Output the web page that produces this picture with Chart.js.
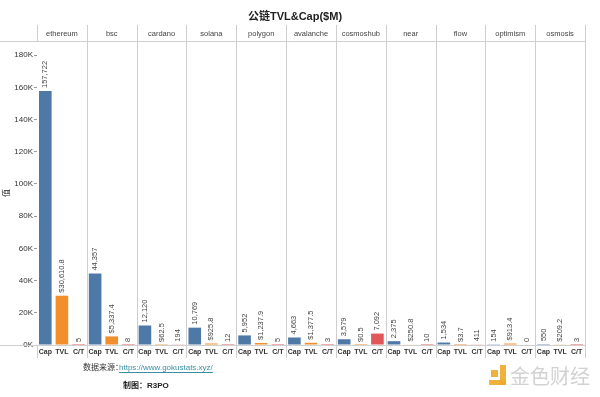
<!DOCTYPE html>
<html>
<head>
<meta charset="utf-8">
<script src="https://cdn.jsdelivr.net/npm/chart.js@4/dist/chart.umd.min.js"></script>
<style>
  html, body { margin: 0; padding: 0; background: #fff; }
  #wrap { width: 600px; height: 397px; position: relative; }
</style>
</head>
<body>
<div id="wrap"><canvas id="chart"></canvas></div>
<script>
// Data ($M)
const chains = ["ethereum", "bsc", "cardano", "solana", "polygon", "avalanche",
                "cosmoshub", "near", "flow", "optimism", "osmosis"];
const measures = ["Cap", "TVL", "C/T"];
const capValues = [157722, 44357, 12120, 10769, 5952, 4663, 3579, 2375, 1534, 154, 550];
const tvlValues = [30610.8, 5337.4, 62.5, 925.8, 1237.9, 1377.5, 0.5, 250.8, 3.7, 913.4, 209.2];
const ctValues = [5, 8, 194, 12, 5, 3, 7092, 10, 411, 0, 3];
const yTicks = [0, 20000, 40000, 60000, 80000, 100000, 120000, 140000, 160000, 180000];

const MEASURE_COLORS = ["#4e79a7", "#f28e2b", "#e15759"];
const FONT = "'Liberation Sans', Arial, 'Noto Sans CJK SC', sans-serif";

const labels = chains.flatMap(() => measures);
const values = chains.flatMap((c, i) => [capValues[i], tvlValues[i], ctValues[i]]);
const colors = labels.map((l, i) => MEASURE_COLORS[i % 3]);

function fmtValue(v, idx) {
    if (idx % 3 === 1) {
        return "$" + v.toLocaleString("en-US", { minimumFractionDigits: 1, maximumFractionDigits: 1 });
    }
    return v.toLocaleString("en-US");
}

// panel frame, headers, footer text
const framePlugin = {
    id: "frame",
    afterDraw(chart) {
        const { ctx, chartArea } = chart;
        const { left, right, top, bottom } = chartArea;
        const w = (right - left) / chains.length;
        ctx.save();
        ctx.strokeStyle = "#cfcfcf";
        ctx.lineWidth = 1;
        ctx.beginPath();
        ctx.moveTo(0, Math.round(top) + 0.5);
        ctx.lineTo(right, Math.round(top) + 0.5);
        ctx.moveTo(0, Math.round(bottom) + 0.5);
        ctx.lineTo(right, Math.round(bottom) + 0.5);
        for (let k = 0; k <= chains.length; k++) {
            const x = Math.round(left + k * w) + 0.5;
            if (k === 0) {
                ctx.moveTo(x, 25); ctx.lineTo(x, top);
                ctx.moveTo(x, bottom); ctx.lineTo(x, bottom + 13);
            } else {
                ctx.moveTo(x, 25); ctx.lineTo(x, bottom + 13);
            }
        }
        ctx.stroke();

        // panel headers
        ctx.fillStyle = "#444";
        ctx.font = "7.5px " + FONT;
        ctx.textAlign = "center";
        ctx.textBaseline = "middle";
        chains.forEach((c, k) => ctx.fillText(c, left + (k + 0.5) * w, 33.5));

        // title
        ctx.fillStyle = "#222";
        ctx.font = "bold 11px " + FONT;
        ctx.fillText("公链TVL&Cap($M)", 295, 17);

        // footer
        ctx.textAlign = "left";
        ctx.font = "8px " + FONT;
        ctx.fillStyle = "#333";
        ctx.fillText("数据来源：", 83, 368);
        ctx.fillStyle = "#3a8fa3";
        const link = "https://www.gokustats.xyz/";
        ctx.fillText(link, 119, 368);
        const lw = ctx.measureText(link).width;
        ctx.strokeStyle = "#3a8fa3";
        ctx.beginPath();
        ctx.moveTo(119, 372.5); ctx.lineTo(119 + lw, 372.5);
        ctx.stroke();
        ctx.fillStyle = "#222";
        ctx.font = "bold 8px " + FONT;
        ctx.fillText("制图：R3PO", 123, 386);

        // watermark
        ctx.fillStyle = "rgba(240,170,40,0.9)";
        ctx.fillRect(491, 370, 7, 7);
        ctx.fillRect(500, 365, 6, 20);
        ctx.fillRect(489, 380, 17, 5);
        ctx.fillStyle = "rgba(205,205,205,0.9)";
        ctx.font = "20px 'Noto Sans CJK SC', sans-serif";
        ctx.fillText("金色财经", 510, 376);
        ctx.restore();
    }
};

// rotated value labels on top of bars
const valueLabels = {
    id: "valueLabels",
    afterDatasetsDraw(chart) {
        const { ctx } = chart;
        const meta = chart.getDatasetMeta(0);
        ctx.save();
        ctx.fillStyle = "#444";
        ctx.font = "7.5px " + FONT;
        ctx.textAlign = "left";
        ctx.textBaseline = "middle";
        meta.data.forEach((bar, i) => {
            ctx.save();
            ctx.translate(bar.x, bar.y - 3);
            ctx.rotate(-Math.PI / 2);
            ctx.fillText(fmtValue(values[i], i), 0, 0);
            ctx.restore();
        });
        ctx.restore();
    }
};

new Chart(document.getElementById("chart").getContext("2d"), {
    type: "bar",
    data: {
        labels,
        datasets: [{
            data: values,
            backgroundColor: colors,
            borderWidth: 0,
            categoryPercentage: 1,
            barPercentage: 0.76,
        }]
    },
    options: {
        responsive: true,
        maintainAspectRatio: false,
        animation: false,
        devicePixelRatio: 1,
        layout: { padding: { top: 41, right: 15, bottom: 38, left: 0 } },
        plugins: { legend: { display: false }, tooltip: { enabled: false } },
        scales: {
            x: {
                grid: { display: false, drawTicks: false },
                border: { display: false },
                ticks: {
                    color: "#333",
                    font: { family: FONT, size: 7, weight: "bold" },
                    maxRotation: 0,
                    autoSkip: false,
                    padding: 3,
                },
                afterFit: s => { s.height = 14; },
            },
            y: {
                min: 0,
                max: 188800,
                afterBuildTicks: s => { s.ticks = yTicks.map(v => ({ value: v })); },
                grid: { drawOnChartArea: false, tickLength: 3, color: "#999" },
                border: { display: false },
                ticks: {
                    color: "#333",
                    font: { family: FONT, size: 8 },
                    padding: 1,
                    callback: v => (v / 1000) + "K",
                },
                title: { display: true, text: "值", color: "#333", font: { family: FONT, size: 8 }, padding: 2 },
                afterFit: s => { s.width = 37; },
            }
        }
    },
    plugins: [framePlugin, valueLabels]
});
</script>
</body>
</html>
